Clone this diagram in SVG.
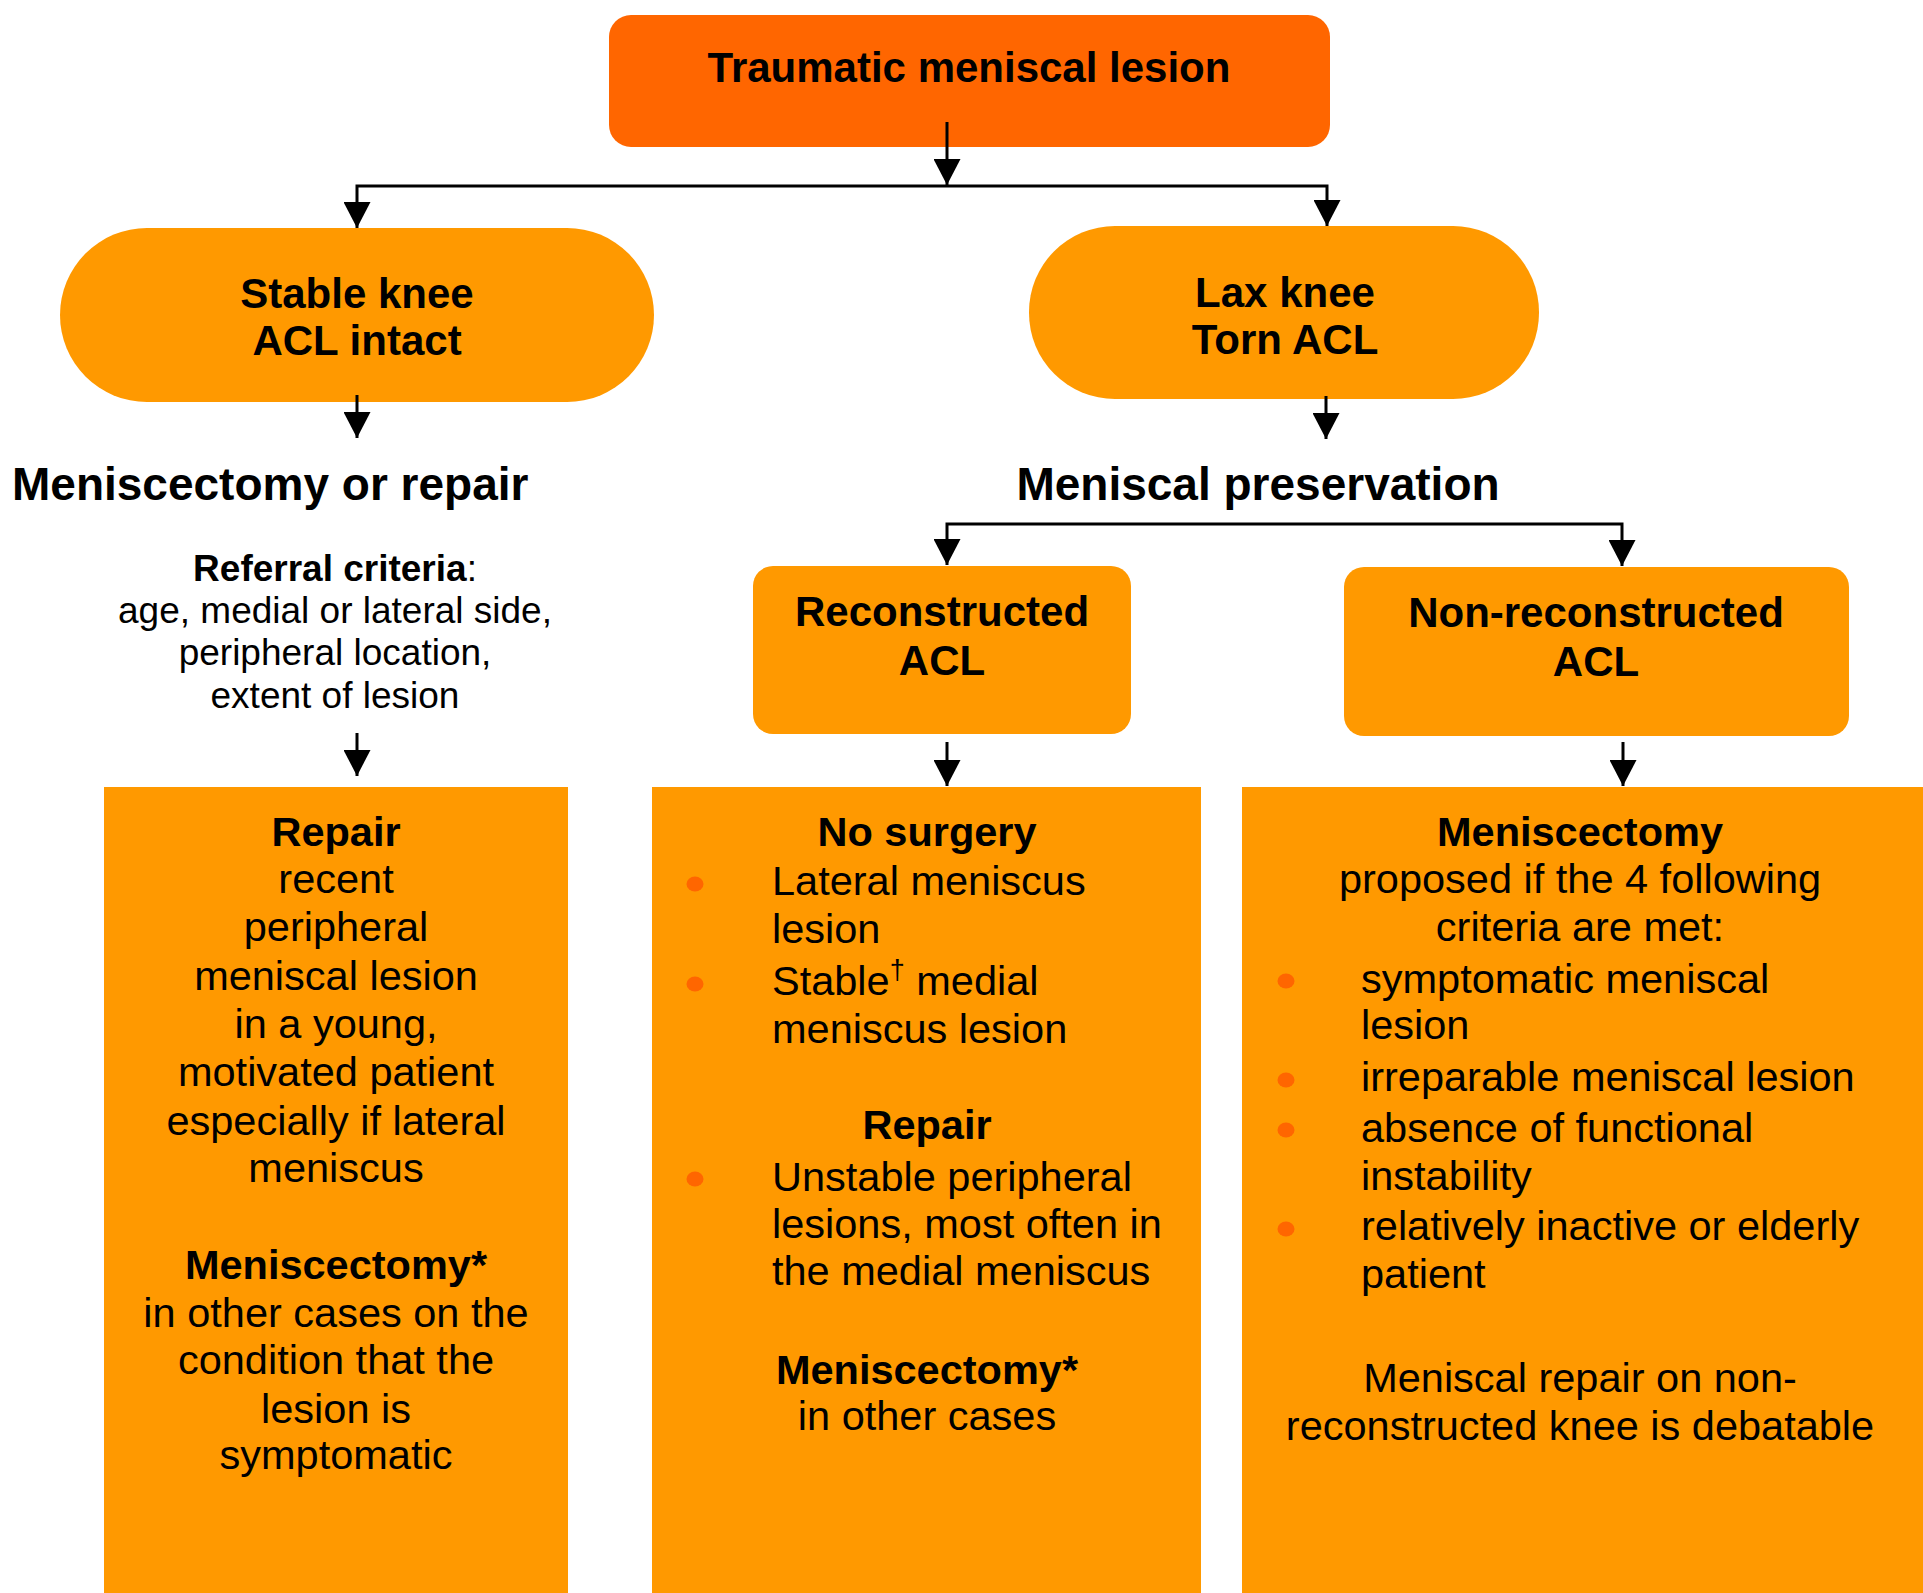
<svg xmlns="http://www.w3.org/2000/svg" width="1923" height="1593" viewBox="0 0 1923 1593">
<defs>
<style>
text{font-family:"Liberation Sans",Arial,sans-serif;fill:#000}
.b{font-weight:bold}
.lbl{font-size:42px;font-weight:bold;text-anchor:middle}
.head{font-size:46px;font-weight:bold}
.ref{font-size:37px;text-anchor:middle}
.body{font-size:41.5px}
.c{text-anchor:middle}
.node{fill:#FF9900}
.top{fill:#FF6600}
.dot{fill:#FF6600}
.conn{fill:none;stroke:#000;stroke-width:3;marker-end:url(#ah)}
</style>
<marker id="ah" markerUnits="userSpaceOnUse" viewBox="0 0 26 27" markerWidth="26" markerHeight="27" refX="26" refY="13.5" orient="auto">
<path d="M0,0 L26,13.5 L0,27 z" fill="#000"/>
</marker>
</defs>
<rect width="1923" height="1593" fill="#fff"/>

<g id="n-traumatic">
<rect class="top" x="609" y="15" width="721" height="132" rx="22" ry="22"/>
<text class="lbl" x="969" y="82">Traumatic meniscal lesion</text>
</g>

<g id="n-stable">
<rect class="node" x="60" y="228" width="594" height="174" rx="87" ry="87"/>
<text class="lbl" x="357" y="308">Stable knee</text>
<text class="lbl" x="357" y="355">ACL intact</text>
</g>

<g id="n-lax">
<rect class="node" x="1029" y="226" width="510" height="173" rx="86" ry="86"/>
<text class="lbl" x="1285" y="307">Lax knee</text>
<text class="lbl" x="1285" y="354">Torn ACL</text>
</g>

<g id="n-menisc-or-repair">
<text class="head" x="12" y="500">Meniscectomy or repair</text>
</g>

<g id="n-preservation">
<text class="head" x="1258" y="500" text-anchor="middle">Meniscal preservation</text>
</g>

<g id="n-referral">
<text class="ref" x="335" y="581"><tspan class="b">Referral criteria</tspan>:</text>
<text class="ref" x="335" y="623">age, medial or lateral side,</text>
<text class="ref" x="335" y="665">peripheral location,</text>
<text class="ref" x="335" y="708">extent of lesion</text>
</g>

<g id="n-reconstructed">
<rect class="node" x="753" y="566" width="378" height="168" rx="20" ry="20"/>
<text class="lbl" x="942" y="626">Reconstructed</text>
<text class="lbl" x="942" y="675">ACL</text>
</g>

<g id="n-nonreconstructed">
<rect class="node" x="1344" y="567" width="505" height="169" rx="20" ry="20"/>
<text class="lbl" x="1596" y="627">Non-reconstructed</text>
<text class="lbl" x="1596" y="676">ACL</text>
</g>

<g id="n-box-stable">
<rect class="node" x="104" y="787" width="464" height="806"/>
<text class="body c b" x="336" y="846">Repair</text>
<text class="body c" x="336" y="893">recent</text>
<text class="body c" x="336" y="941">peripheral</text>
<text class="body c" x="336" y="990">meniscal lesion</text>
<text class="body c" x="336" y="1038">in a young,</text>
<text class="body c" x="336" y="1086">motivated patient</text>
<text class="body c" x="336" y="1135">especially if lateral</text>
<text class="body c" x="336" y="1182">meniscus</text>
<text class="body c b" x="336" y="1279">Meniscectomy*</text>
<text class="body c" x="336" y="1327">in other cases on the</text>
<text class="body c" x="336" y="1374">condition that the</text>
<text class="body c" x="336" y="1423">lesion is</text>
<text class="body c" x="336" y="1469">symptomatic</text>
</g>

<g id="n-box-reconstructed">
<rect class="node" x="652" y="787" width="549" height="806"/>
<text class="body c b" x="927" y="846">No surgery</text>
<ellipse class="dot" cx="695" cy="884" rx="8.5" ry="7.5"/>
<text class="body" x="772" y="895">Lateral meniscus</text>
<text class="body" x="772" y="943">lesion</text>
<ellipse class="dot" cx="695" cy="984" rx="8.5" ry="7.5"/>
<text class="body" x="772" y="995">Stable<tspan font-size="27" dy="-16">†</tspan><tspan dy="16"> medial</tspan></text>
<text class="body" x="772" y="1043">meniscus lesion</text>
<text class="body c b" x="927" y="1139">Repair</text>
<ellipse class="dot" cx="695" cy="1179" rx="8.5" ry="7.5"/>
<text class="body" x="772" y="1191">Unstable peripheral</text>
<text class="body" x="772" y="1238">lesions, most often in</text>
<text class="body" x="772" y="1285">the medial meniscus</text>
<text class="body c b" x="927" y="1384">Meniscectomy*</text>
<text class="body c" x="927" y="1430">in other cases</text>
</g>

<g id="n-box-nonreconstructed">
<rect class="node" x="1242" y="787" width="681" height="806"/>
<text class="body c b" x="1580" y="846">Meniscectomy</text>
<text class="body c" x="1580" y="893">proposed if the 4 following</text>
<text class="body c" x="1580" y="941">criteria are met:</text>
<ellipse class="dot" cx="1286" cy="981" rx="8.5" ry="7.5"/>
<text class="body" x="1361" y="993">symptomatic meniscal</text>
<text class="body" x="1361" y="1039">lesion</text>
<ellipse class="dot" cx="1286" cy="1080" rx="8.5" ry="7.5"/>
<text class="body" x="1361" y="1091">irreparable meniscal lesion</text>
<ellipse class="dot" cx="1286" cy="1130" rx="8.5" ry="7.5"/>
<text class="body" x="1361" y="1142">absence of functional</text>
<text class="body" x="1361" y="1190">instability</text>
<ellipse class="dot" cx="1286" cy="1229" rx="8.5" ry="7.5"/>
<text class="body" x="1361" y="1240">relatively inactive or elderly</text>
<text class="body" x="1361" y="1288">patient</text>
<text class="body c" x="1580" y="1392">Meniscal repair on non-</text>
<text class="body c" x="1580" y="1440">reconstructed knee is debatable</text>
</g>

<g id="connectors">
<path class="conn" d="M947,122 V185"/>
<path class="conn" d="M947,186 H357 V228"/>
<path class="conn" d="M947,186 H1327 V226"/>
<path class="conn" d="M357,395 V438"/>
<path class="conn" d="M1326,396 V439"/>
<path class="conn" d="M1284,524 H947 V565"/>
<path class="conn" d="M1284,524 H1622 V566"/>
<path class="conn" d="M357,733 V776"/>
<path class="conn" d="M947,742 V786"/>
<path class="conn" d="M1623,742 V786"/>
</g>
</svg>
